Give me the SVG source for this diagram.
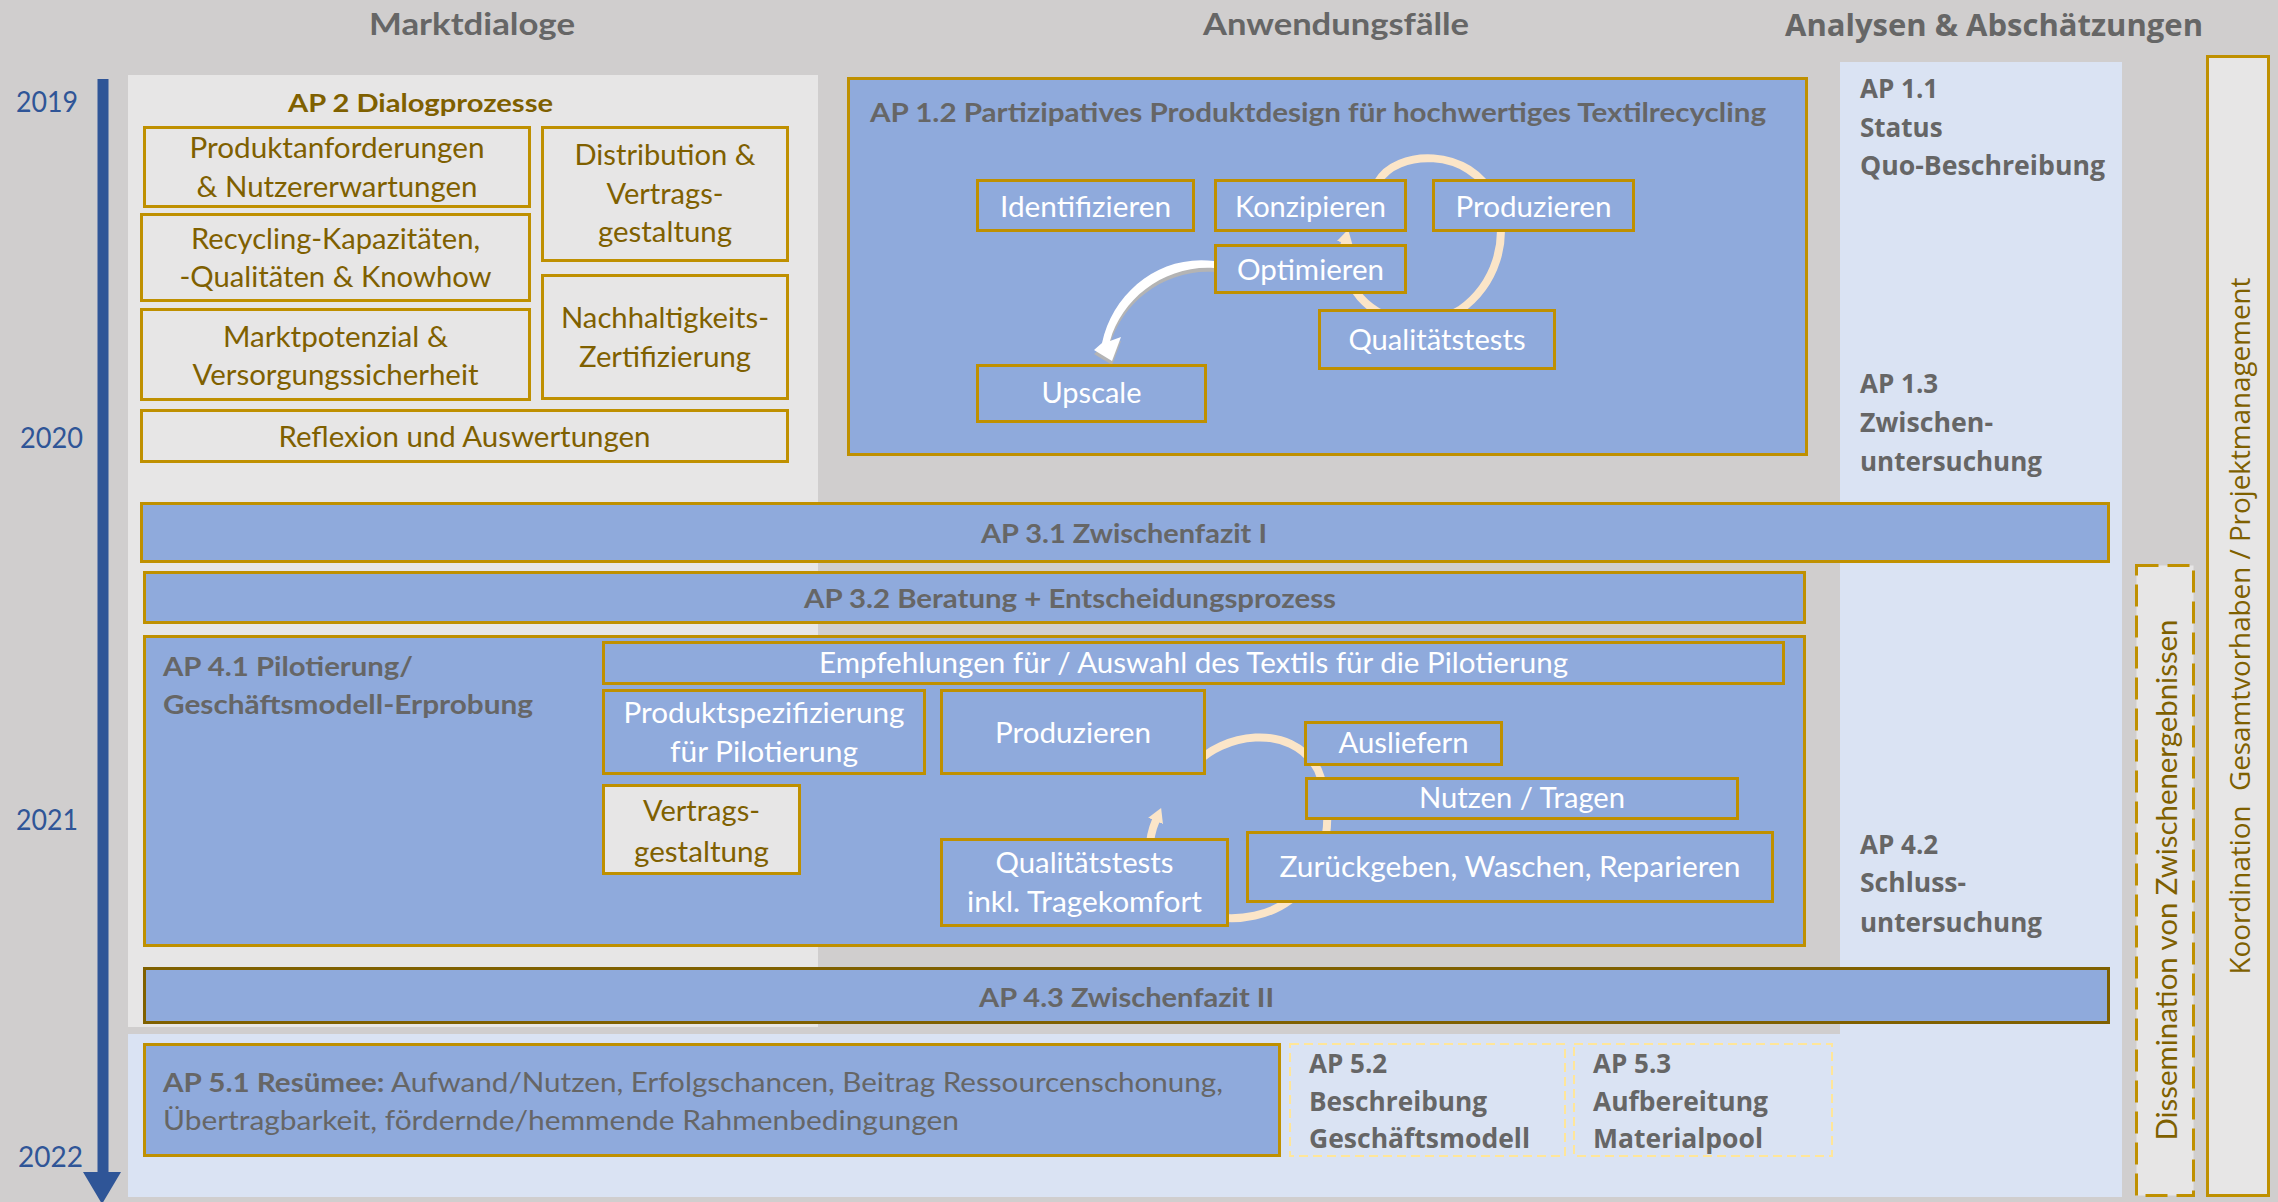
<svg xmlns="http://www.w3.org/2000/svg" width="2278" height="1202" viewBox="0 0 2278 1202">
<defs>
<style>
.gb{fill:#E7E6E6;stroke:#BF9000;stroke-width:3}
.bb{fill:#8FAADC;stroke:#BF9000;stroke-width:3}
.tg{font-family:Lato,"Liberation Sans",sans-serif;font-size:28px;fill:#7F6000;text-anchor:middle}
.tw{font-family:Lato,"Liberation Sans",sans-serif;font-size:28px;fill:#FFFFFF;text-anchor:middle}
.th{font-family:Lato,"Liberation Sans",sans-serif;font-weight:bold;font-size:26px;fill:#666666}
.to{font-family:"Open Sans","DejaVu Sans",sans-serif;font-weight:bold;font-size:26px;fill:#666666}
.yr{font-family:Lato,"Liberation Sans",sans-serif;font-size:29px;fill:#2F5597}
.arc{fill:none;stroke:#FBE5C8;stroke-width:8}
</style>
<marker id="ah" markerUnits="userSpaceOnUse" viewBox="0 0 14 16" refX="1" refY="8" markerWidth="14" markerHeight="16" orient="auto">
<path d="M0,0 L14,8 L0,16 z" fill="#FBE5C8"/>
</marker>
</defs>

<g id="background">
<rect x="0" y="0" width="2278" height="1202" fill="#D0CECE"/>
<rect x="128" y="75" width="690" height="952" fill="#E7E6E6"/>
<rect x="1840" y="62" width="282" height="1135" fill="#DAE3F3"/>
<rect x="128" y="1034" width="1994" height="163" fill="#DAE3F3"/>
</g>

<g id="headings">
<text class="th" x="472" y="35" text-anchor="middle" textLength="206" lengthAdjust="spacingAndGlyphs" style="font-size:31px">Marktdialoge</text>
<text class="th" x="1336" y="35" text-anchor="middle" textLength="266" lengthAdjust="spacingAndGlyphs" style="font-size:31px">Anwendungsfälle</text>
<text class="to" x="1785" y="36" textLength="418" lengthAdjust="spacingAndGlyphs" style="font-size:31px">Analysen &amp; Abschätzungen</text>
</g>

<g id="timeline">
<rect x="97.5" y="79" width="11" height="1095" fill="#2F5597"/>
<polygon points="83,1172 121,1172 102,1204" fill="#2F5597"/>
<text class="yr" x="16" y="112" textLength="62" lengthAdjust="spacingAndGlyphs">2019</text>
<text class="yr" x="20" y="448" textLength="63" lengthAdjust="spacingAndGlyphs">2020</text>
<text class="yr" x="16" y="830" textLength="62" lengthAdjust="spacingAndGlyphs">2021</text>
<text class="yr" x="18" y="1167" textLength="65" lengthAdjust="spacingAndGlyphs">2022</text>
</g>

<g id="ap2">
<text class="th" x="420.5" y="112" text-anchor="middle" textLength="265" lengthAdjust="spacingAndGlyphs" style="fill:#7F6000;font-size:25px">AP 2 Dialogprozesse</text>
</g>
<g id="ap2-produktanforderungen">
<rect class="gb" x="144.5" y="127.5" width="385" height="79"/>
<text class="tg" x="337" y="158" textLength="295" lengthAdjust="spacingAndGlyphs">Produktanforderungen</text>
<text class="tg" x="337" y="197" textLength="281" lengthAdjust="spacingAndGlyphs">&amp; Nutzererwartungen</text>
</g>
<g id="ap2-distribution">
<rect class="gb" x="542.5" y="127.5" width="245" height="133"/>
<text class="tg" x="665" y="165" textLength="181" lengthAdjust="spacingAndGlyphs">Distribution &amp;</text>
<text class="tg" x="665" y="204" textLength="117" lengthAdjust="spacingAndGlyphs">Vertrags-</text>
<text class="tg" x="665" y="242" textLength="134" lengthAdjust="spacingAndGlyphs">gestaltung</text>
</g>
<g id="ap2-recycling">
<rect class="gb" x="141.5" y="214.5" width="388" height="86"/>
<text class="tg" x="335.5" y="249" textLength="289" lengthAdjust="spacingAndGlyphs">Recycling-Kapazitäten,</text>
<text class="tg" x="335.5" y="287" textLength="312" lengthAdjust="spacingAndGlyphs">-Qualitäten &amp; Knowhow</text>
</g>
<g id="ap2-nachhaltigkeit">
<rect class="gb" x="542.5" y="275.5" width="245" height="123"/>
<text class="tg" x="665" y="328" textLength="208" lengthAdjust="spacingAndGlyphs">Nachhaltigkeits-</text>
<text class="tg" x="665" y="367" textLength="172" lengthAdjust="spacingAndGlyphs">Zertifizierung</text>
</g>
<g id="ap2-marktpotenzial">
<rect class="gb" x="141.5" y="309.5" width="388" height="90"/>
<text class="tg" x="335.5" y="347" textLength="225" lengthAdjust="spacingAndGlyphs">Marktpotenzial &amp;</text>
<text class="tg" x="335.5" y="385" textLength="286" lengthAdjust="spacingAndGlyphs">Versorgungssicherheit</text>
</g>
<g id="ap2-reflexion">
<rect class="gb" x="141.5" y="410.5" width="646" height="51"/>
<text class="tg" x="464.5" y="447" textLength="372" lengthAdjust="spacingAndGlyphs">Reflexion und Auswertungen</text>
</g>

<g id="ap1-2">
<rect class="bb" x="848.5" y="78.5" width="958" height="376"/>
<text class="th" x="870" y="122" textLength="896" lengthAdjust="spacingAndGlyphs">AP 1.2 Partizipatives Produktdesign für hochwertiges Textilrecycling</text>
</g>

<g id="ap4-1">
<rect class="bb" x="144.5" y="636.5" width="1660" height="309"/>
<text class="th" x="163" y="676" textLength="250" lengthAdjust="spacingAndGlyphs">AP 4.1 Pilotierung/</text>
<text class="th" x="163" y="714" textLength="370" lengthAdjust="spacingAndGlyphs">Geschäftsmodell-Erprobung</text>
</g>

<g id="connectors">
<path class="arc" d="M1378,182 C1395,150 1470,145 1495,200 C1510,240 1495,285 1460,310 C1420,335 1370,320 1352,285 C1342,265 1342,254 1345,242" marker-end="url(#ah)"/>
<path class="arc" d="M1195,765 C1220,735 1290,720 1318,770 C1335,810 1330,870 1290,900 C1250,930 1175,925 1152,870 C1147,850 1150,834 1156,820" marker-end="url(#ah)"/>
<path d="M1214,261 C1160,254 1113,292 1102,343 L1094,350 L1112,361 L1121,337 L1110,341 C1122,298 1165,265 1214,268 Z" fill="#B4B4B4" transform="translate(0,4)"/>
<path d="M1214,261 C1160,254 1113,292 1102,343 L1094,350 L1112,361 L1121,337 L1110,341 C1122,298 1165,265 1214,268 Z" fill="#FFFFFF"/>
</g>

<g id="ap1-2-identifizieren">
<rect class="bb" x="977.5" y="180.5" width="216" height="50"/>
<text class="tw" x="1085.5" y="217" textLength="171" lengthAdjust="spacingAndGlyphs">Identifizieren</text>
</g>
<g id="ap1-2-konzipieren">
<rect class="bb" x="1215.5" y="180.5" width="190" height="50"/>
<text class="tw" x="1310.5" y="217" textLength="151" lengthAdjust="spacingAndGlyphs">Konzipieren</text>
</g>
<g id="ap1-2-produzieren">
<rect class="bb" x="1433.5" y="180.5" width="200" height="50"/>
<text class="tw" x="1533.5" y="217" textLength="156" lengthAdjust="spacingAndGlyphs">Produzieren</text>
</g>
<g id="ap1-2-optimieren">
<rect class="bb" x="1215.5" y="245.5" width="190" height="47"/>
<text class="tw" x="1310.5" y="280" textLength="147" lengthAdjust="spacingAndGlyphs">Optimieren</text>
</g>
<g id="ap1-2-qualitaetstests">
<rect class="bb" x="1319.5" y="310.5" width="235" height="58"/>
<text class="tw" x="1437" y="350" textLength="177" lengthAdjust="spacingAndGlyphs">Qualitätstests</text>
</g>
<g id="ap1-2-upscale">
<rect class="bb" x="977.5" y="365.5" width="228" height="56"/>
<text class="tw" x="1091.5" y="403" textLength="100" lengthAdjust="spacingAndGlyphs">Upscale</text>
</g>

<g id="ap1-1">
<text class="to" x="1860" y="98">AP 1.1</text>
<text class="to" x="1860" y="137">Status</text>
<text class="to" x="1860" y="175" textLength="245" lengthAdjust="spacingAndGlyphs">Quo-Beschreibung</text>
</g>
<g id="ap1-3">
<text class="to" x="1860" y="393">AP 1.3</text>
<text class="to" x="1860" y="432" textLength="133" lengthAdjust="spacingAndGlyphs">Zwischen-</text>
<text class="to" x="1860" y="471" textLength="182" lengthAdjust="spacingAndGlyphs">untersuchung</text>
</g>

<g id="ap3-1">
<rect class="bb" x="141.5" y="503.5" width="1967" height="58"/>
<text class="th" x="1124" y="543" text-anchor="middle" textLength="286" lengthAdjust="spacingAndGlyphs">AP 3.1 Zwischenfazit I</text>
</g>
<g id="ap3-2">
<rect class="bb" x="144.5" y="572.5" width="1660" height="50"/>
<text class="th" x="1070" y="608" text-anchor="middle" textLength="532" lengthAdjust="spacingAndGlyphs">AP 3.2 Beratung + Entscheidungsprozess</text>
</g>

<g id="ap4-1-empfehlungen">
<rect class="bb" x="603.5" y="642.5" width="1180" height="41"/>
<text class="tw" x="1193.5" y="673" textLength="749" lengthAdjust="spacingAndGlyphs">Empfehlungen für / Auswahl des Textils für die Pilotierung</text>
</g>
<g id="ap4-1-produktspezifizierung">
<rect class="bb" x="603.5" y="690.5" width="321" height="83"/>
<text class="tw" x="764" y="723" textLength="281" lengthAdjust="spacingAndGlyphs">Produktspezifizierung</text>
<text class="tw" x="764" y="762" textLength="188" lengthAdjust="spacingAndGlyphs">für Pilotierung</text>
</g>
<g id="ap4-1-produzieren">
<rect class="bb" x="941.5" y="690.5" width="263" height="83"/>
<text class="tw" x="1073" y="743" textLength="156" lengthAdjust="spacingAndGlyphs">Produzieren</text>
</g>
<g id="ap4-1-vertragsgestaltung">
<rect class="gb" x="603.5" y="785.5" width="196" height="88"/>
<text class="tg" x="701.5" y="821" textLength="117" lengthAdjust="spacingAndGlyphs">Vertrags-</text>
<text class="tg" x="701.5" y="862" textLength="135" lengthAdjust="spacingAndGlyphs">gestaltung</text>
</g>
<g id="ap4-1-ausliefern">
<rect class="bb" x="1305.5" y="722.5" width="196" height="42"/>
<text class="tw" x="1403.5" y="753" textLength="130" lengthAdjust="spacingAndGlyphs">Ausliefern</text>
</g>
<g id="ap4-1-nutzen">
<rect class="bb" x="1306.5" y="778.5" width="431" height="40"/>
<text class="tw" x="1522" y="808" textLength="206" lengthAdjust="spacingAndGlyphs">Nutzen / Tragen</text>
</g>
<g id="ap4-1-zurueckgeben">
<rect class="bb" x="1247.5" y="832.5" width="525" height="69"/>
<text class="tw" x="1510" y="877" textLength="461" lengthAdjust="spacingAndGlyphs">Zurückgeben, Waschen, Reparieren</text>
</g>
<g id="ap4-1-qualitaetstests">
<rect class="bb" x="941.5" y="839.5" width="286" height="86"/>
<text class="tw" x="1084.5" y="873" textLength="178" lengthAdjust="spacingAndGlyphs">Qualitätstests</text>
<text class="tw" x="1084.5" y="912" textLength="235" lengthAdjust="spacingAndGlyphs">inkl. Tragekomfort</text>
</g>

<g id="ap4-2">
<text class="to" x="1860" y="854">AP 4.2</text>
<text class="to" x="1860" y="892" textLength="106" lengthAdjust="spacingAndGlyphs">Schluss-</text>
<text class="to" x="1860" y="932" textLength="182" lengthAdjust="spacingAndGlyphs">untersuchung</text>
</g>

<g id="ap4-3">
<rect x="144.5" y="968.5" width="1964" height="54" fill="#8FAADC" stroke="#7F6000" stroke-width="3"/>
<text class="th" x="1126.5" y="1007" text-anchor="middle" textLength="295" lengthAdjust="spacingAndGlyphs">AP 4.3 Zwischenfazit II</text>
</g>

<g id="ap5-1">
<rect class="bb" x="144.5" y="1044.5" width="1135" height="111"/>
<text x="163" y="1092" textLength="1060" lengthAdjust="spacingAndGlyphs" style="font-family:Lato,'Liberation Sans',sans-serif;font-size:26px;fill:#666666"><tspan font-weight="bold">AP 5.1 Resümee:</tspan> Aufwand/Nutzen, Erfolgschancen, Beitrag Ressourcenschonung,</text>
<text x="163" y="1130" textLength="796" lengthAdjust="spacingAndGlyphs" style="font-family:Lato,'Liberation Sans',sans-serif;font-size:26px;fill:#666666">Übertragbarkeit, fördernde/hemmende Rahmenbedingungen</text>
</g>
<g id="ap5-2">
<rect x="1290" y="1044" width="275" height="112" fill="none" stroke="#FFE699" stroke-width="2" stroke-dasharray="9 5"/>
<text class="to" x="1309" y="1073">AP 5.2</text>
<text class="to" x="1309" y="1111" textLength="178" lengthAdjust="spacingAndGlyphs">Beschreibung</text>
<text class="to" x="1309" y="1148" textLength="221" lengthAdjust="spacingAndGlyphs">Geschäftsmodell</text>
</g>
<g id="ap5-3">
<rect x="1574" y="1044" width="258" height="112" fill="none" stroke="#FFE699" stroke-width="2" stroke-dasharray="9 5"/>
<text class="to" x="1593" y="1073">AP 5.3</text>
<text class="to" x="1593" y="1111" textLength="175" lengthAdjust="spacingAndGlyphs">Aufbereitung</text>
<text class="to" x="1593" y="1148" textLength="170" lengthAdjust="spacingAndGlyphs">Materialpool</text>
</g>

<g id="dissemination">
<rect x="2136.5" y="565.5" width="57" height="630" fill="#E7E6E6" stroke="#BF9000" stroke-width="3" stroke-dasharray="22 9"/>
<text transform="translate(2177,880) rotate(-90)" x="0" y="0" text-anchor="middle" textLength="521" lengthAdjust="spacingAndGlyphs" style="font-family:Lato,'Liberation Sans',sans-serif;font-size:29px;fill:#7F6000">Dissemination von Zwischenergebnissen</text>
</g>
<g id="koordination">
<rect x="2207.5" y="56.5" width="61" height="1139" fill="#E7E6E6" stroke="#BF9000" stroke-width="3"/>
<text transform="translate(2250,626) rotate(-90)" x="0" y="0" text-anchor="middle" textLength="697" lengthAdjust="spacingAndGlyphs" style="font-family:'Open Sans','DejaVu Sans',sans-serif;font-size:28px;fill:#7F6000;white-space:pre" xml:space="preserve">Koordination  Gesamtvorhaben / Projektmanagement</text>
</g>
</svg>
